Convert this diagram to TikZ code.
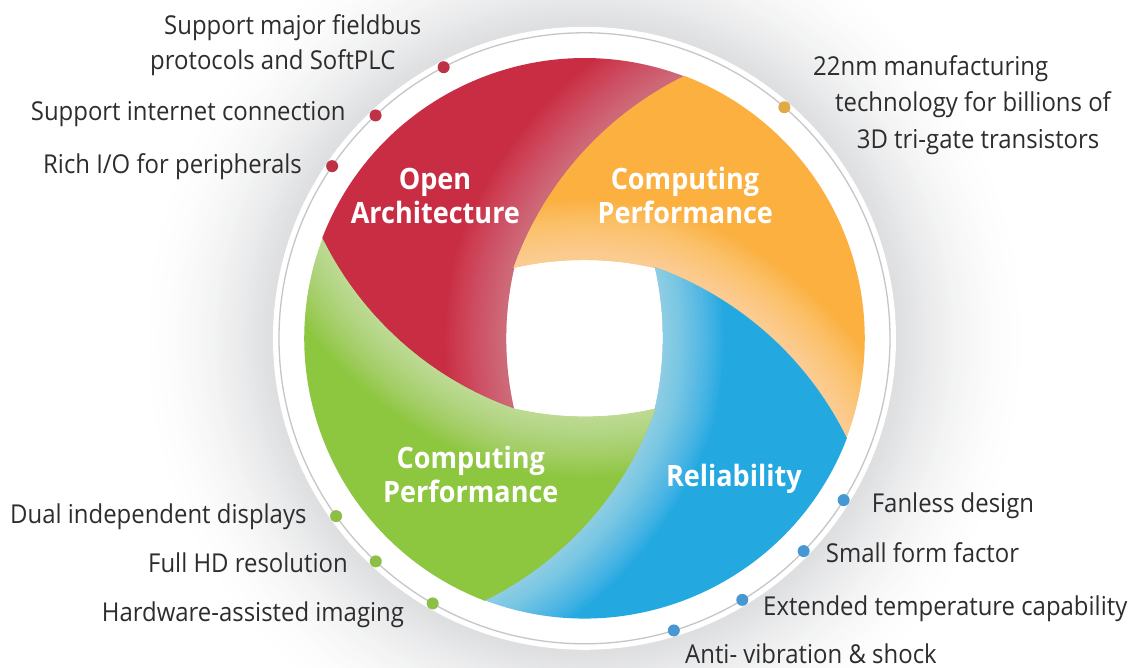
\documentclass[tikz,border=0pt]{standalone}
\usepackage{fontspec}
\setmainfont{Open Sans}[FakeStretch=0.92]

\definecolor{archred}{RGB}{200,45,68}
\definecolor{perforange}{RGB}{251,176,64}
\definecolor{relblue}{RGB}{36,168,224}
\definecolor{perfgreen}{RGB}{141,198,63}
\definecolor{dotred}{RGB}{190,50,70}
\definecolor{dotorange}{RGB}{226,170,70}
\definecolor{dotgreen}{RGB}{141,190,70}
\definecolor{dotblue}{RGB}{70,152,210}
\definecolor{glowgray}{RGB}{220,221,223}
\definecolor{labelgray}{RGB}{45,45,45}

\tikzset{
  feature/.style={anchor=base west, inner sep=0pt, text=labelgray, font=\fontsize{26}{30}\selectfont},
  bladetext/.style={anchor=base, inner sep=0pt, text=white, font=\fontsize{29.4}{34}\selectfont\bfseries},
  featuredot/.style={circle, inner sep=0pt, minimum size=12pt},
}

\begin{document}
\begin{tikzpicture}[x=1pt,y=1pt]
\useasboundingbox (-584.5,-329.7) rectangle (547.5,338.3);
% soft grey glow round the disk
\foreach \i in {0,...,40} {
  \pgfmathsetmacro\p{100*(\i/40)^1.8}
  \fill[glowgray!\p!white] (0,0) circle ({450-138.5*\i/40});
}
\fill[white] (0,0) circle (311.5);
\draw[gray!45, line width=1.3pt] (0,0) circle (305.5);

% four blades, one turned by 90 degrees from the next
\foreach \rot/\col/\op in {0/archred/0.018, -90/perforange/0.03, 180/relblue/0.035, 90/perfgreen/0.03} {
  \begin{scope}[rotate=\rot]
    \clip (69:281) arc[start angle=116.13, end angle=160.51, radius=340.5]
      arc[start angle=167.09, end angle=192.91, radius=316.4]
      arc[start angle=250.51, end angle=206.13, radius=340.5]
      arc[start angle=159, end angle=69, radius=281] -- cycle;
    \fill[\col] (0,0) circle (300);
    \foreach \w in {6,12,...,120}
      \draw[white, opacity=\op, line width=\w pt, line join=round]
        (69:281) arc[start angle=116.13, end angle=160.51, radius=340.5]
        arc[start angle=167.09, end angle=192.91, radius=316.4];
  \end{scope}
}

% blade titles
\node[bladetext] (open) at (-149.5,148.9) {Open};
\node[bladetext] (arch) at (-149.1,114.5) {Architecture};
\node[bladetext] (comp) at (100.5,148.9) {Computing};
\node[bladetext] (perf) at (100.8,114.5) {Performance};
\node[bladetext] (gcomp) at (-113.7,-130.6) {Computing};
\node[bladetext] (gperf) at (-113.7,-164.2) {Performance};
\node[bladetext] (rel) at (149.4,-148.4) {Reliability};

% dots on the ring
\node[featuredot, fill=dotred] (r1) at (117.45:305.5) {};
\node[featuredot, fill=dotred] (r2) at (133.15:305.5) {};
\node[featuredot, fill=dotred] (r3) at (145.7:305.5) {};
\node[featuredot, fill=dotorange] (o1) at (49.14:305.5) {};
\node[featuredot, fill=dotblue] (b1) at (-31.98:305.5) {};
\node[featuredot, fill=dotblue] (b2) at (-44.16:305.5) {};
\node[featuredot, fill=dotblue] (b3) at (-58.9:305.5) {};
\node[featuredot, fill=dotblue] (b4) at (-73.0:305.5) {};
\node[featuredot, fill=dotgreen] (g1) at (215.6:305.5) {};
\node[featuredot, fill=dotgreen] (g2) at (226.9:305.5) {};
\node[featuredot, fill=dotgreen] (g3) at (240.2:305.5) {};

% feature texts
\node[feature] (fieldbus) at (-420.5,303.3) {Support major fieldbus};
\node[feature] (softplc) at (-434.5,268.3) {protocols and SoftPLC};
\node[feature] (internet) at (-553.8,217.3) {Support internet connection};
\node[feature] (richio) at (-541.5,164.3) {Rich I/O for peripherals};
\node[feature] (nm) at (228.5,262.3) {22nm manufacturing};
\node[feature] (techno) at (250.5,226.3) {technology for billions of};
\node[feature] (trigate) at (272.2,189.3) {3D tri-gate transistors};
\node[feature] (fanless) at (287.2,-174.7) {Fanless design};
\node[feature] (small) at (241.2,-224.7) {Small form factor};
\node[feature] (temp) at (178.5,-276.7) {Extended temperature capability};
\node[feature] (anti) at (100.5,-325.2) {Anti- vibration \& shock};
\node[feature] (dual) at (-574.5,-185.7) {Dual independent displays};
\node[feature] (fullhd) at (-436.5,-234.7) {Full HD resolution};
\node[feature] (hwimg) at (-482.8,-283.4) {Hardware-assisted imaging};
\end{tikzpicture}
\end{document}
